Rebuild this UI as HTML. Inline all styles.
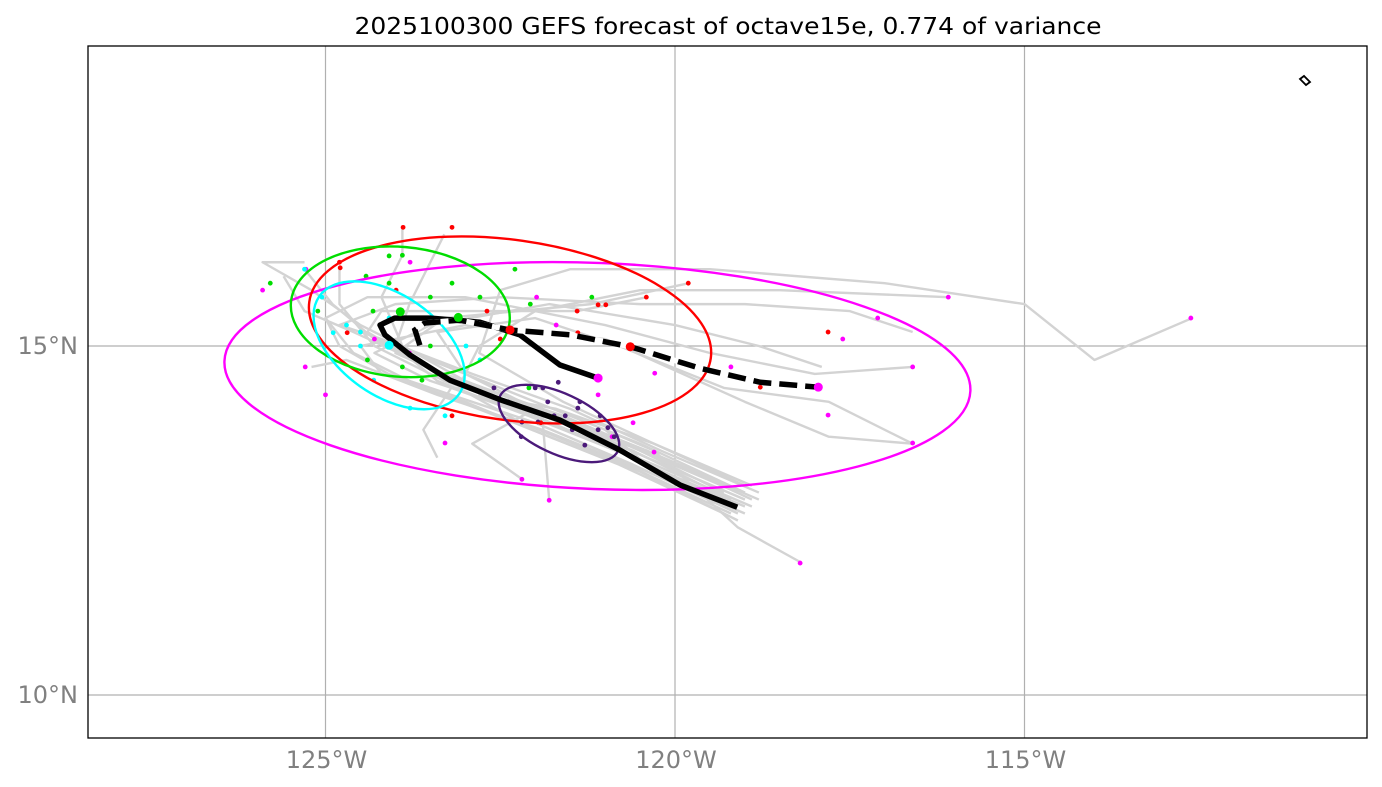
<!DOCTYPE html>
<html><head><meta charset="utf-8"><style>
html,body{margin:0;padding:0;background:#fff;}
svg{display:block;font-family:"DejaVu Sans","Liberation Sans",sans-serif;}
</style></head><body>
<svg id="chart" width="1382" height="787" viewBox="0 0 1382 787">
<text x="728" y="34" font-size="23" text-anchor="middle" textLength="747" lengthAdjust="spacingAndGlyphs" fill="#000">2025100300 GEFS forecast of octave15e, 0.774 of variance</text>
<defs><clipPath id="clip"><rect x="88" y="46" width="1279" height="692"/></clipPath></defs>
<g id="grid"></g>
<g id="plot" clip-path="url(#clip)"></g>
<rect x="88" y="46" width="1279" height="692" fill="none" stroke="#000" stroke-width="1.3"/>
<g id="ticks"></g>
</svg>
<script>
const xTicks=[-125,-120,-115];
const xTickLabels=["125°W","120°W","115°W"];
const yTicks=[15,10];
const yTickLabels=["15°N","10°N"];
const grayTracks=[
[[-119.0,12.9],[-120.5,13.6],[-122,14.2],[-123.5,14.8],[-124.5,15.3],[-125.2,15.8],[-125.9,16.2],[-125.3,16.2]],
[[-118.9,12.8],[-120.4,13.5],[-121.9,14.1],[-123.3,14.6],[-124.3,15.1],[-124.9,15.6],[-125.3,16.1]],
[[-119.1,12.7],[-120.6,13.4],[-122.1,14.0],[-123.4,14.5],[-124.0,15.0],[-123.8,15.6],[-123.5,16.2],[-123.3,16.6]],
[[-119.2,12.6],[-120.7,13.3],[-122.2,13.9],[-123.1,14.4],[-122.8,15.0],[-122.0,15.5],[-120.5,15.8],[-118.5,15.8],[-116.1,15.7]],
[[-119.0,13.0],[-120.3,13.6],[-121.6,14.2],[-122.8,14.9],[-122.5,15.8],[-121.5,16.1],[-119.5,16.1],[-117.0,15.9],[-115.0,15.6],[-114.0,14.8],[-112.6,15.4]],
[[-118.8,12.9],[-120.2,13.5],[-121.5,14.1],[-122.9,14.6],[-124.2,15.1],[-124.8,15.3],[-124.0,15.6],[-122.5,15.7],[-120.5,15.6],[-119.0,15.6],[-117.5,15.5],[-116.6,15.2]],
[[-119.3,12.6],[-120.8,13.3],[-122.3,13.9],[-123.6,14.4],[-124.6,14.9],[-125.0,15.4],[-124.4,15.7],[-123.0,15.7],[-121.0,15.3],[-119.5,14.9],[-118.0,14.6],[-116.6,14.7]],
[[-119.0,12.8],[-120.4,13.4],[-121.8,14.0],[-123.0,14.6],[-123.4,15.2],[-122.0,15.4],[-120.8,15.0],[-119.3,14.4],[-117.8,14.2],[-116.6,13.6]],
[[-119.2,12.7],[-120.6,13.4],[-122.0,14.0],[-123.5,14.5],[-124.3,14.9],[-123.5,15.3],[-121.8,15.6],[-120.0,15.3],[-118.8,15.0],[-117.9,14.7]],
[[-119.1,12.9],[-120.5,13.5],[-121.9,14.1],[-123.3,14.6],[-124.6,15.2],[-125.3,15.5],[-125.6,16.0]],
[[-118.9,12.7],[-120.3,13.3],[-121.8,13.9],[-123.2,14.4],[-123.6,13.8],[-123.4,13.4]],
[[-119.0,12.6],[-120.4,13.2],[-121.9,13.8],[-123.4,14.3],[-124.7,14.8],[-125.2,14.7]],
[[-119.3,12.9],[-120.7,13.6],[-122.0,14.1],[-122.9,13.6],[-122.2,13.1]],
[[-118.9,13.0],[-120.3,13.6],[-121.7,14.1],[-122.8,14.3],[-121.9,14.0],[-121.8,12.8]],
[[-119.1,12.5],[-120.5,13.2],[-121.8,13.7],[-123.0,14.2],[-124.2,14.6],[-124.5,15.0],[-123.0,15.3],[-121.0,15.1],[-119.0,14.2],[-117.8,13.7],[-116.6,13.6]],
[[-119.0,12.8],[-120.4,13.4],[-121.7,14.0],[-123.0,14.5],[-123.9,15.0],[-124.2,15.7],[-123.9,16.3],[-123.9,16.7]],
[[-119.2,12.8],[-120.6,13.5],[-121.9,14.0],[-123.3,14.5],[-124.3,15.0],[-124.8,15.6],[-124.8,16.1]],
[[-119.0,12.7],[-120.4,13.3],[-121.0,13.8],[-120.3,13.5],[-119.1,12.4],[-118.2,11.9]],
[[-118.8,12.8],[-120.2,13.4],[-121.6,14.0],[-123.1,14.5],[-124.0,14.9],[-123.3,15.4],[-121.2,15.6],[-119.8,15.9]],
[[-119.1,12.6],[-120.6,13.3],[-122.0,13.9],[-123.2,14.3],[-124.1,14.6],[-124.8,15.0],[-125.0,15.4]],
[[-119.0,12.9],[-120.4,13.5],[-121.9,14.0],[-123.4,14.6],[-124.4,15.2],[-124.2,15.5],[-122.7,15.5],[-121.4,15.5],[-120.4,15.7]]
];
const meanLon=[-119.11,-119.93,-120.79,-121.65,-122.50,-123.22,-123.79,-124.15,-124.22,-124.01,-123.50,-122.79,-122.22,-121.65,-121.10];
const meanLat=[12.69,13.01,13.51,13.94,14.23,14.51,14.87,15.16,15.30,15.40,15.40,15.34,15.16,14.73,14.54];
const dashLon=[-123.65,-123.72,-123.58,-123.08,-122.36,-121.50,-120.64,-119.64,-118.78,-117.95];
const dashLat=[15.01,15.23,15.33,15.37,15.23,15.16,14.99,14.68,14.48,14.41];
const ellColors=["#ff00ff","#ff0000","#00dd00","#00ffff","#4b1a7a"];
const ellLon=[-121.11,-122.36,-123.93,-124.09,-121.66];
const ellLat=[14.57,15.23,15.49,15.01,13.89];
const ellRx=[5.34,2.90,1.57,1.22,0.93];
const ellRy=[1.62,1.29,0.93,0.72,0.43];
const ellAng=[2.3,8,5,35,25];
const magLon=[-125.29,-125.0,-125.9,-125.28,-123.79,-123.29,-122.19,-121.8,-120.29,-120.3,-119.2,-117.81,-117.6,-117.1,-116.6,-116.6,-116.09,-112.62,-118.21,-120.9,-120.6,-121.7,-121.98,-121.1,-124.3,-123.8];
const magLat=[14.7,14.3,15.8,16.1,16.2,13.61,13.09,12.79,14.61,13.48,14.7,14.01,15.1,15.4,14.7,13.61,15.7,15.4,11.89,13.7,13.9,15.3,15.7,14.3,15.1,14.9];
const redLon=[-123.89,-123.19,-124.79,-123.99,-122.69,-121.4,-120.99,-120.41,-119.81,-121.39,-122.5,-118.78,-117.81,-123.19,-121.92,-124.69,-124.8,-121.1];
const redLat=[16.7,16.7,16.12,15.8,15.5,15.5,15.59,15.7,15.9,15.19,15.1,14.41,15.2,14.0,13.9,15.19,16.2,15.59];
const grnLon=[-125.79,-124.09,-123.9,-124.42,-124.09,-123.5,-123.19,-122.79,-122.29,-122.07,-121.19,-125.11,-124.32,-123.5,-123.62,-122.09,-124.4,-123.9];
const grnLat=[15.9,16.29,16.3,16.0,15.9,15.7,15.9,15.7,16.1,15.6,15.7,15.5,15.5,15.0,14.51,14.4,14.8,14.7];
const cynLon=[-125.05,-124.89,-124.5,-124.09,-124.31,-123.79,-123.29,-122.99,-122.79,-125.3,-124.5,-124.7];
const cynLat=[15.7,15.19,15.0,15.4,14.51,14.11,14.0,15.0,14.8,16.1,15.2,15.3];
const indLon=[-122.59,-122.0,-121.89,-121.67,-122.39,-121.82,-121.39,-122.19,-121.96,-121.57,-121.47,-121.07,-121.1,-120.87,-121.29,-122.2,-121.73,-121.36,-120.96];
const indLat=[14.4,14.4,14.4,14.48,14.2,14.2,14.11,13.91,13.91,14.0,13.8,14.0,13.8,13.7,13.58,13.7,14.0,14.2,13.83];
const bigLon=[-123.93,-123.1,-122.36,-120.64,-117.95,-121.1,-124.09];
const bigLat=[15.49,15.41,15.23,14.99,14.41,14.54,15.01];
const bigCol=["#00dd00","#00dd00","#ff0000","#ff0000","#ff00ff","#ff00ff","#00ffff"];

const X=lon=>675+(lon+120)*69.9;
const Y=lat=>346-(lat-15)*69.8;
const NS="http://www.w3.org/2000/svg";
function mk(tag,attrs,parent){const e=document.createElementNS(NS,tag);for(const k in attrs)e.setAttribute(k,attrs[k]);parent.appendChild(e);return e;}
const grid=document.getElementById('grid'),plot=document.getElementById('plot'),ticks=document.getElementById('ticks');
xTicks.forEach((t,i)=>{
 const l=mk('line',{x1:X(t),x2:X(t),y1:46,y2:738,stroke:'#b0b0b0','stroke-width':1.2},grid);
 
 
 const tx=mk('text',{x:X(t)+1,y:768,'font-size':24,fill:'#808080','text-anchor':'middle'},ticks);
 tx.textContent=xTickLabels[i];
 
 
});
yTicks.forEach((t,i)=>{
 const l=mk('line',{x1:88,x2:1367,y1:Y(t),y2:Y(t),stroke:'#b0b0b0','stroke-width':1.2},grid);
 
 
 const tx=mk('text',{x:78,y:Y(t)+8,'font-size':24,fill:'#808080','text-anchor':'end'},ticks);
 tx.textContent=yTickLabels[i];
 
 
});
grayTracks.forEach(tr=>{
 const p=mk('polyline',{points:tr.map(q=>X(q[0])+','+Y(q[1])).join(' '),fill:'none',stroke:'#d3d3d3','stroke-width':2.4,'stroke-linejoin':'round'},plot);
 
 
});
function dots(lons,lats,col,r,name){lons.forEach((lo,i)=>{const c=mk('circle',{cx:X(lo),cy:Y(lats[i]),r:r,fill:col},plot);
 
 });}
dots(magLon,magLat,'#ff00ff',2.4,'magenta-point');
dots(redLon,redLat,'#ff0000',2.4,'red-point');
dots(grnLon,grnLat,'#00dd00',2.4,'green-point');
dots(cynLon,cynLat,'#00ffff',2.4,'cyan-point');
dots(indLon,indLat,'#4b1a7a',2.4,'indigo-point');
ellColors.forEach((c,i)=>{
 const cx=X(ellLon[i]),cy=Y(ellLat[i]);
 const e=mk('ellipse',{cx:cx,cy:cy,rx:ellRx[i]*69.9,ry:ellRy[i]*69.8,fill:'none',stroke:c,'stroke-width':2.4,transform:`rotate(${ellAng[i]} ${cx} ${cy})`},plot);
 
 
});
const m=mk('polyline',{points:meanLon.map((lo,i)=>X(lo)+','+Y(meanLat[i])).join(' '),fill:'none',stroke:'#000','stroke-width':5.5,'stroke-linejoin':'round'},plot);


const dw=mk('polyline',{points:dashLon.map((lo,i)=>X(lo)+','+Y(dashLat[i])).join(' '),fill:'none',stroke:'#fff','stroke-width':5.5},plot);


const d=mk('polyline',{points:dashLon.map((lo,i)=>X(lo)+','+Y(dashLat[i])).join(' '),fill:'none',stroke:'#000','stroke-width':5.5,'stroke-dasharray':'18 8'},plot);


bigLon.forEach((lo,i)=>{const c=mk('circle',{cx:X(lo),cy:Y(bigLat[i]),r:4.5,fill:bigCol[i]},plot);
 
 });
const isl=mk('path',{d:'M1300,79 L1304,76 L1310,82 L1306,85 Z',fill:'none',stroke:'#000','stroke-width':1.8},plot);


</script>
</body></html>
